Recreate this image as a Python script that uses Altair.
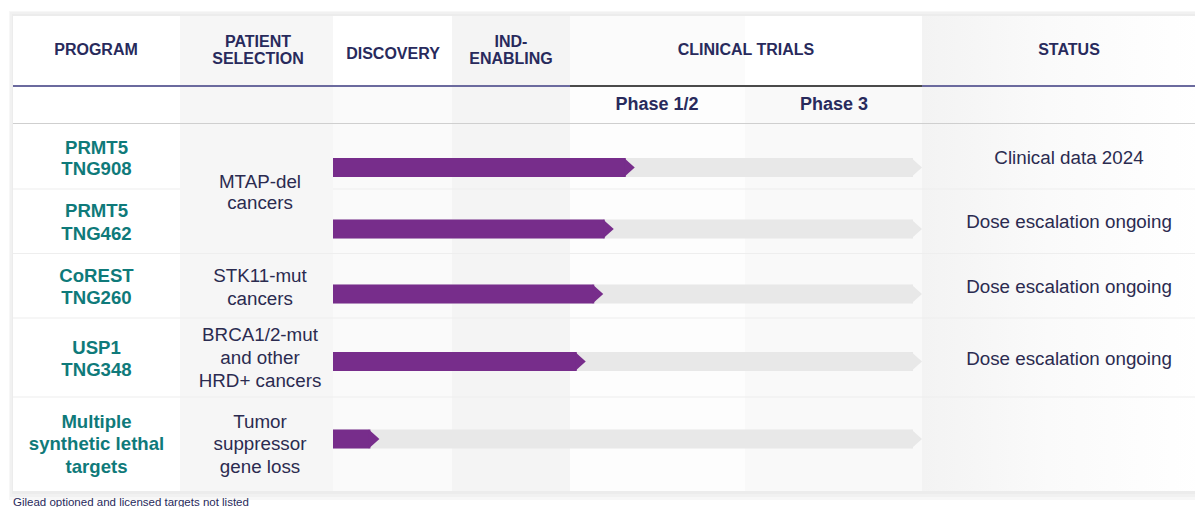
import altair as alt
import pandas as pd

# ---------------- data ----------------
programs = [["PRMT5", "TNG908"], ["PRMT5", "TNG462"], ["CoREST", "TNG260"],
            ["USP1", "TNG348"], ["Multiple", "synthetic lethal", "targets"]]
selections = [["MTAP-del", "cancers"], ["STK11-mut", "cancers"],
              ["BRCA1/2-mut", "and other", "HRD+ cancers"],
              ["Tumor", "suppressor", "gene loss"]]
statuses = ["Clinical data 2024", "Dose escalation ongoing",
            "Dose escalation ongoing", "Dose escalation ongoing", ""]
# progress in stage units (0=Discovery start, 1=IND, 2=Phase 1/2, 3=Phase 3, 4=end)
progress = [2.37, 2.25, 2.19, 2.09, 0.39]
track_end = 4.0
header_labels = [["PROGRAM"], ["PATIENT", "SELECTION"], ["DISCOVERY"],
                 ["IND-", "ENABLING"], ["CLINICAL TRIALS"], ["STATUS"]]
phase_labels = ["Phase 1/2", "Phase 3"]
footer = "Gilead optioned and licensed targets not listed"

# ---------------- layout (page pixels) ----------------
OFF = 8
W, H = 1187, 499
FONT = "Liberation Sans"
NAVY = "#282a5c"
BODY = "#2b2b50"
TEAL = "#0f7a7a"
PURPLE = "#772d8b"
TRACK = "#e8e8e8"

def p(v):
    return v - OFF

col_edges = [13, 180, 333, 452, 570, 745, 922, 1203]
head_fill = ["#ffffff", "#f6f6f6", "#ffffff", "#f4f4f4", "#fbfbfb", "#ffffff"]
body_fill = ["#ffffff", "#f6f6f6", "#fafafa", "#f4f4f4", "#fdfdfd", "#f9f9f9"]

HEAD_TOP, HEAD_BOT, CARD_BOT = 16, 86, 491
prog_line_y = [[147, 168], [210, 233], [275, 297], [347, 369], [421, 443, 466]]
sel_line_y = [[181, 202], [275, 298], [334, 357, 380], [421, 443, 466]]
status_y = [157, 221, 286, 358, 439]
bar_y = [167.5, 229, 294, 361.5, 439]
BAR_H = 19

rects = []
rects.append(dict(x=9, x2=1203, y=11, y2=500, c="#f7f7f7"))
rects.append(dict(x=10, x2=1203, y=12, y2=497, c="#f1f1f1"))
rects.append(dict(x=12, x2=1203, y=14, y2=494, c="#ececec"))
rects.append(dict(x=13, x2=1203, y=HEAD_TOP, y2=CARD_BOT, c="#ffffff"))
for i in range(6):
    rects.append(dict(x=col_edges[i], x2=col_edges[i + 1], y=HEAD_TOP, y2=HEAD_BOT, c=head_fill[i]))
    rects.append(dict(x=col_edges[i], x2=col_edges[i + 1], y=HEAD_BOT, y2=CARD_BOT, c=body_fill[i]))
rect_df = pd.DataFrame(rects)
for k in ["x", "x2", "y", "y2"]:
    rect_df[k] = rect_df[k].map(p)

bg = alt.Chart(rect_df).mark_rect().encode(
    x=alt.X("x:Q", scale=None), x2="x2:Q",
    y=alt.Y("y:Q", scale=None), y2="y2:Q",
    color=alt.Color("c:N", scale=None))

status_grad = alt.Chart(pd.DataFrame([dict(x=p(922), x2=p(1203), y=p(HEAD_TOP), y2=p(CARD_BOT))])).mark_rect(
    color=alt.LinearGradient(gradient="linear", x1=0, x2=1, y1=0, y2=0,
                             stops=[alt.GradientStop(color="#f3f3f3", offset=0),
                                    alt.GradientStop(color="#fafafa", offset=0.45),
                                    alt.GradientStop(color="#ffffff", offset=1)])
).encode(x=alt.X("x:Q", scale=None), x2="x2:Q", y=alt.Y("y:Q", scale=None), y2="y2:Q")

lines = [
    dict(x=13, x2=570, y=86, c="#6b6a9e", w=2),
    dict(x=570, x2=922, y=86, c="#4a4a4a", w=2),
    dict(x=922, x2=1203, y=86, c="#6b6a9e", w=2),
    dict(x=13, x2=1203, y=123.5, c="#cfcfcf", w=1.2),
    dict(x=13, x2=180, y=189, c="#eeeeee", w=1.2),
    dict(x=333, x2=1203, y=189, c="#eeeeee", w=1.2),
    dict(x=13, x2=1203, y=253.5, c="#eeeeee", w=1.2),
    dict(x=13, x2=1203, y=318, c="#eeeeee", w=1.2),
    dict(x=13, x2=1203, y=397, c="#eeeeee", w=1.2),
]
line_df = pd.DataFrame(lines)
for k in ["x", "x2", "y"]:
    line_df[k] = line_df[k].map(p)
rules = alt.Chart(line_df).mark_rule().encode(
    x=alt.X("x:Q", scale=None), x2="x2:Q", y=alt.Y("y:Q", scale=None),
    color=alt.Color("c:N", scale=None), strokeWidth=alt.StrokeWidth("w:Q", scale=None))

# ---------------- bars ----------------
stage_scale = alt.Scale(domain=[0, 1, 2, 3, 4],
                        range=[p(333), p(452), p(570), p(745), p(922)], nice=False, zero=False)
bars_df = pd.DataFrame({
    "start": [0.0] * len(progress),
    "value": progress,
    "track": [track_end] * len(progress),
    "yc": [p(v) for v in bar_y],
})
bars_df["y0"] = bars_df["yc"] - BAR_H / 2
bars_df["y1"] = bars_df["yc"] + BAR_H / 2

CHEV = "M -1.12 -1 L 0 0 L -1.12 1 Z"
track_rect = alt.Chart(bars_df).mark_rect(color=TRACK, x2Offset=-9).encode(
    x=alt.X("start:Q", scale=stage_scale, axis=None), x2="track:Q",
    y=alt.Y("y0:Q", scale=None), y2="y1:Q")
track_tip = alt.Chart(bars_df).mark_point(shape=CHEV, size=BAR_H ** 2, filled=True,
                                          opacity=1, strokeWidth=0, color=TRACK).encode(
    x=alt.X("track:Q", scale=stage_scale, axis=None), y=alt.Y("yc:Q", scale=None))
bar_rect = alt.Chart(bars_df).mark_rect(color=PURPLE, x2Offset=-9).encode(
    x=alt.X("start:Q", scale=stage_scale, axis=None), x2="value:Q",
    y=alt.Y("y0:Q", scale=None), y2="y1:Q")
bar_tip = alt.Chart(bars_df).mark_point(shape=CHEV, size=BAR_H ** 2, filled=True,
                                        opacity=1, strokeWidth=0, color=PURPLE).encode(
    x=alt.X("value:Q", scale=stage_scale, axis=None), y=alt.Y("yc:Q", scale=None))

# ---------------- texts ----------------
head_x = [96, 258, 393, 511, 746, 1069]
head_rows = []
for lbl, hx in zip(header_labels, head_x):
    ys = [42, 59] if len(lbl) == 2 else ([54] if lbl[0] == "DISCOVERY" else [50])
    for t, yy in zip(lbl, ys):
        head_rows.append(dict(t=t, x=p(hx), y=p(yy)))
head_txt = alt.Chart(pd.DataFrame(head_rows)).mark_text(
    font=FONT, fontSize=16, fontWeight="bold", color=NAVY, align="center", baseline="middle"
).encode(x=alt.X("x:Q", scale=None), y=alt.Y("y:Q", scale=None), text="t:N")

phase_df = pd.DataFrame({"t": phase_labels, "x": [p(657), p(834)], "y": [p(104.5), p(104.5)]})
phase_txt = alt.Chart(phase_df).mark_text(
    font=FONT, fontSize=18, fontWeight="bold", color=NAVY, align="center", baseline="middle"
).encode(x=alt.X("x:Q", scale=None), y=alt.Y("y:Q", scale=None), text="t:N")

prog_rows = []
for lines_, ys in zip(programs, prog_line_y):
    for t, yy in zip(lines_, ys):
        prog_rows.append(dict(t=t, x=p(96.5), y=p(yy + 0.5)))
prog_txt = alt.Chart(pd.DataFrame(prog_rows)).mark_text(
    font=FONT, fontSize=18.6, fontWeight="bold", color=TEAL, align="center", baseline="middle"
).encode(x=alt.X("x:Q", scale=None), y=alt.Y("y:Q", scale=None), text="t:N")

body_rows = []
for lines_, ys in zip(selections, sel_line_y):
    for t, yy in zip(lines_, ys):
        body_rows.append(dict(t=t, x=p(260), y=p(yy + 0.5)))
for t, yy in zip(statuses, status_y):
    if t:
        body_rows.append(dict(t=t, x=p(1069), y=p(yy + 0.5)))
body_txt = alt.Chart(pd.DataFrame(body_rows)).mark_text(
    font=FONT, fontSize=18.8, color=BODY, align="center", baseline="middle"
).encode(x=alt.X("x:Q", scale=None), y=alt.Y("y:Q", scale=None), text="t:N")

foot_txt = alt.Chart(pd.DataFrame([dict(t=footer, x=p(13), y=p(506))])).mark_text(
    font=FONT, fontSize=11.5, color=NAVY, align="left", baseline="alphabetic"
).encode(x=alt.X("x:Q", scale=None), y=alt.Y("y:Q", scale=None), text="t:N")

chart = alt.layer(
    bg, status_grad, rules, track_rect, track_tip, bar_rect, bar_tip,
    head_txt, phase_txt, prog_txt, body_txt, foot_txt
).resolve_scale(x="independent", y="independent").properties(
    width=W, height=H, padding=0, background="#ffffff",
    autosize=alt.AutoSizeParams(type="none")
).configure_view(stroke=None)

chart.save("out.html", embed_options={"renderer": "svg", "actions": False})
